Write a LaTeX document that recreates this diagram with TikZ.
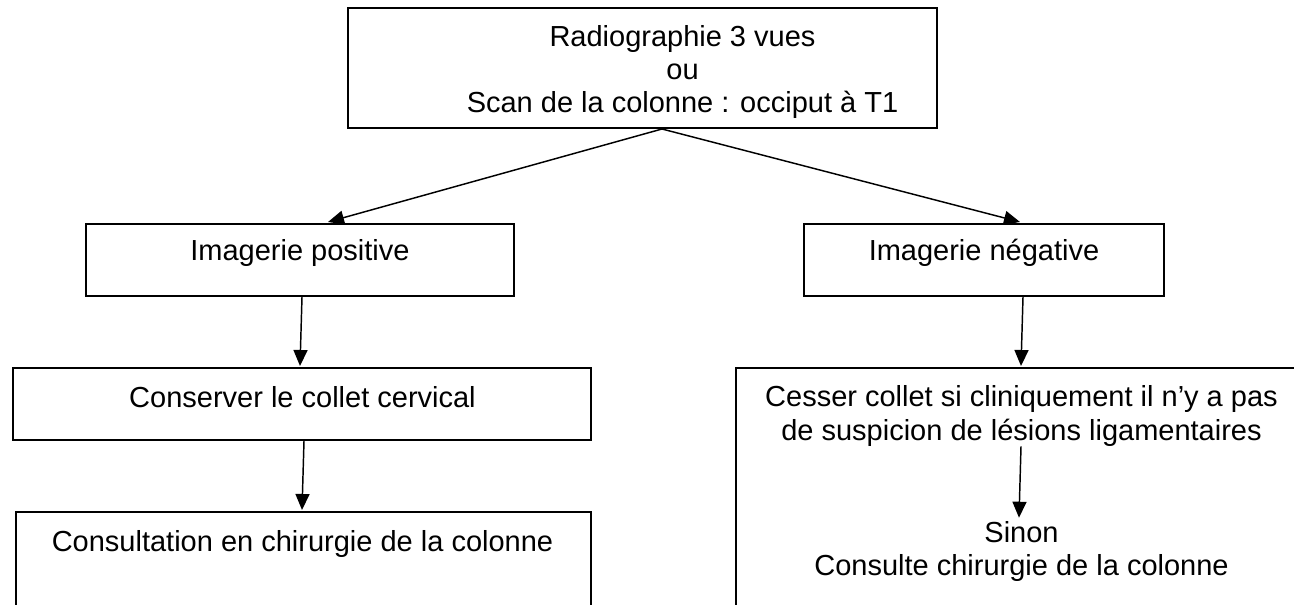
\documentclass[tikz,border=0pt]{standalone}
\usepackage{fontspec}
\setmainfont{Liberation Sans}
\usetikzlibrary{arrows.meta,calc}
\begin{document}
\begin{tikzpicture}[x=0.75pt,y=-0.75pt,
  box/.style={draw, line width=1.5pt, rectangle, inner sep=0pt},
  txt/.style={inner sep=0pt, align=center, font=\fontsize{21.75pt}{24.75pt}\selectfont, anchor=base},
  arr/.style={line width=1.1pt, -{Triangle[length=12pt,width=10.5pt]}}]
\path[use as bounding box] (0,0) rectangle (1294,605);
\clip (0,0) rectangle (1294,605);
% boxes
\node[box, minimum width=441.75pt, minimum height=90pt] (top) at (642.5,68) {};
\node[box, minimum width=321pt, minimum height=54pt] (pos) at (300,260) {};
\node[box, minimum width=270pt, minimum height=54pt] (neg) at (984,260) {};
\node[box, minimum width=433.5pt, minimum height=54pt] (cons) at (302,404) {};
\node[box, minimum width=431.25pt, minimum height=120pt] (consult) at (303.5,592) {};
\node[box, minimum width=430.5pt, minimum height=234pt] (cesser) at (1023,524) {};
% texts (base anchor = baseline of the last line)
\node[txt] (toptext) at (682.5,113) {Radiographie 3 vues\\ou\\Scan de la colonne : occiput à T1};
\node[txt] (postext) at (300,261) {Imagerie positive};
\node[txt] (negtext) at (984,261) {Imagerie négative};
\node[txt] (constext) at (302.5,407) {Conserver le collet cervical};
\node[txt] (consulttext) at (302.5,551) {Consultation en chirurgie de la colonne};
\node[txt] (ctext) at (1021.5,440) {Cesser collet si cliniquement il n’y a pas\\de suspicion de lésions ligamentaires};
\node[txt] (sinon) at (1021.5,575) {Sinon\\Consulte chirurgie de la colonne};
% connectors
\draw[arr] ($(top.south)+(19.5,0)$) -- ($(pos.north)+(28,-1)$);
\draw[arr] ($(top.south)+(19.5,0)$) -- ($(neg.north)+(36,-1)$);
\draw[arr] ($(pos.south)+(2,0)$) -- ($(cons.north)+(-2,-1)$);
\draw[arr] ($(cons.south)+(2,0)$) -- ($(consult.north)+(-1.5,-1)$);
\draw[arr] ($(neg.south)+(39,0)$) -- ($(cesser.north)+(-2,-1)$);
\draw[arr] ($(ctext.south)+(-0.5,0)$) -- ($(sinon.north)+(-2.5,-3)$);
\end{tikzpicture}
\end{document}
